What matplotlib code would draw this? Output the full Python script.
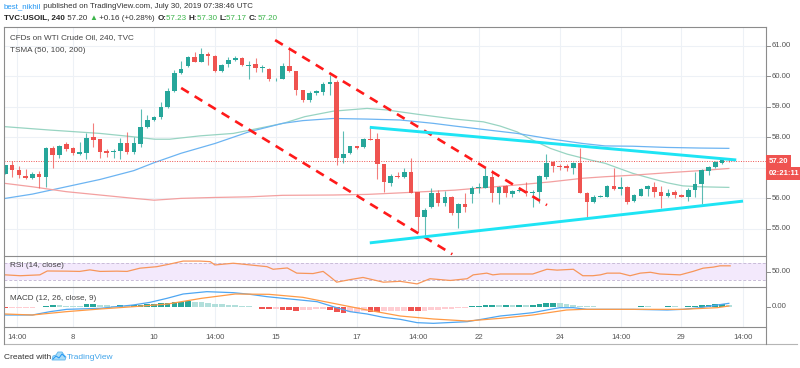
import matplotlib
matplotlib.use('Agg')
import matplotlib.pyplot as plt
import matplotlib.transforms as mtrans
from matplotlib.lines import Line2D
from matplotlib.patches import Polygon

plt.rcParams['font.family'] = ['Liberation Sans', 'DejaVu Sans']

# ---- data (candle index 0 = first 4h bar of July 8) ----
first_idx = -10
opens = [56.80, 57.08, 56.92, 56.72, 56.66, 56.78, 56.68, 57.63, 57.41, 57.76,
         57.63, 57.45, 57.47, 57.99, 57.93, 57.55, 57.50, 57.54, 57.79, 57.50,
         57.77, 58.34, 58.56, 58.65, 58.99, 59.51, 60.09, 60.34, 60.61, 60.47,
         60.72, 60.66, 60.16, 60.39, 60.52, 60.60, 60.34, 60.39, 60.26, 60.23,
         59.89, 59.92, 60.33, 60.16, 59.54, 59.21, 59.43, 59.49, 59.74, 59.81,
         57.33, 57.49, 57.70, 57.66, 57.94, 57.93, 57.11, 56.50, 56.72, 56.68,
         56.84, 56.19, 55.39, 55.71, 56.15, 55.84, 56.04, 55.52, 55.79, 56.13,
         56.34, 56.34, 56.70, 56.17, 56.39, 56.12, 56.24, 56.24, 56.18, 56.21,
         56.70, 57.19, 57.05, 57.04, 57.00, 57.16, 56.17, 55.86, 56.05, 56.04,
         56.40, 56.30, 56.37, 55.91, 56.08, 56.30, 56.37, 56.21, 56.08, 56.19,
         56.10, 56.04, 56.26, 56.46, 56.90, 57.03, 57.16, 57.23]
highs = [57.10, 57.22, 57.05, 56.94, 56.86, 56.88, 57.66, 57.70, 57.74, 57.84,
         57.67, 57.85, 58.12, 58.47, 57.94, 57.60, 57.60, 57.96, 58.17, 57.99,
         58.92, 58.72, 58.70, 59.16, 59.60, 60.20, 60.49, 60.65, 60.80, 60.91,
         60.80, 60.68, 60.41, 60.61, 60.65, 60.63, 60.49, 60.60, 60.36, 60.26,
         59.95, 60.42, 60.89, 60.18, 59.56, 59.52, 59.53, 59.81, 60.03, 59.86,
         58.21, 57.72, 57.72, 57.98, 58.32, 58.14, 57.13, 56.80, 56.85, 56.97,
         57.30, 56.21, 55.67, 56.32, 56.28, 56.23, 56.08, 55.85, 56.17, 56.40,
         56.48, 57.03, 56.92, 56.40, 56.42, 56.27, 56.30, 56.53, 56.28, 56.75,
         57.44, 57.23, 57.13, 57.12, 57.19, 57.63, 56.19, 56.09, 56.09, 56.43,
         56.97, 56.70, 56.40, 56.14, 56.33, 56.43, 56.53, 56.41, 56.30, 56.26,
         56.13, 56.32, 56.84, 56.95, 57.06, 57.20, 57.32, 57.30]
lows = [56.78, 56.70, 56.66, 56.64, 56.64, 56.32, 56.37, 56.97, 57.33, 57.54,
        57.41, 57.42, 57.28, 57.68, 57.33, 57.35, 57.30, 57.28, 57.45, 57.45,
        57.68, 58.30, 58.52, 58.59, 58.94, 59.48, 60.06, 60.30, 60.45, 60.45,
        60.36, 60.14, 60.12, 60.30, 60.48, 60.32, 59.92, 60.14, 60.14, 59.85,
        59.85, 59.90, 60.14, 59.38, 59.14, 59.14, 59.38, 59.38, 59.38, 57.08,
        57.14, 57.46, 57.60, 57.64, 57.90, 56.61, 56.21, 56.39, 56.66, 56.66,
        56.15, 54.89, 54.73, 55.66, 55.75, 55.73, 55.44, 55.01, 55.55, 55.83,
        56.15, 56.32, 55.88, 55.80, 56.02, 56.04, 56.20, 56.07, 55.71, 55.85,
        56.61, 56.86, 56.93, 56.90, 56.78, 56.15, 55.33, 55.84, 56.02, 56.03,
        56.27, 56.10, 55.80, 55.86, 56.06, 56.07, 56.05, 55.69, 56.05, 55.99,
        56.02, 55.90, 56.05, 55.80, 56.75, 57.00, 57.12, 57.17]
closes = [57.08, 56.92, 56.76, 56.65, 56.78, 56.70, 57.65, 57.41, 57.72, 57.61,
          57.47, 57.50, 57.98, 57.90, 57.52, 57.49, 57.55, 57.79, 57.50, 57.79,
          58.32, 58.56, 58.67, 58.99, 59.51, 60.09, 60.23, 60.61, 60.47, 60.72,
          60.66, 60.16, 60.38, 60.52, 60.60, 60.36, 60.36, 60.27, 60.28, 59.90,
          59.91, 60.33, 60.16, 59.54, 59.21, 59.45, 59.51, 59.74, 59.81, 57.33,
          57.44, 57.70, 57.65, 57.94, 57.91, 57.11, 56.53, 56.73, 56.68, 56.84,
          56.17, 55.39, 55.61, 56.15, 55.83, 56.04, 55.52, 55.79, 55.72, 56.34,
          56.36, 56.72, 56.17, 56.37, 56.17, 56.24, 56.26, 56.15, 56.20, 56.72,
          57.14, 57.05, 57.02, 57.00, 57.16, 56.17, 55.88, 56.04, 56.07, 56.40,
          56.29, 56.35, 55.88, 56.10, 56.30, 56.38, 56.21, 56.08, 56.17, 56.10,
          56.04, 56.26, 56.46, 56.92, 57.03, 57.17, 57.24, 57.20]

# TSMA lines, read at sample bars
ma_fast_x = [-10, -3.4, 4, 8.9, 12.1, 14.3, 18.8, 23.7, 26.2, 31.1, 34.3, 38.5, 43.5, 46.4,
             50.9, 56.5, 60.7, 63.2, 65.7, 68, 70.6, 73.1, 76.5, 78.7, 82.8, 85.4, 87.9,
             90.2, 92.8, 97]
ma_fast_y = [58.34, 58.23, 58.12, 58.01, 57.93, 57.93, 58.04, 58.12, 58.23, 58.45, 58.67,
             58.85, 58.94, 58.89, 58.75, 58.59, 58.50, 58.36, 58.17, 57.90, 57.63, 57.44,
             57.25, 57.14, 56.81, 56.65, 56.50, 56.40, 56.37, 56.35]
ma_mid_x = [-10, -6, -1, 4, 9, 12, 16, 21, 26, 31, 34, 38.5, 43.5, 48.4, 53.3, 56.5,
            60.7, 65.7, 70.6, 75.4, 78.7, 82.8, 87.9, 92.8, 97]
ma_mid_y = [55.99, 56.13, 56.37, 56.61, 56.90, 57.16, 57.47, 57.79, 58.17, 58.45, 58.54,
            58.61, 58.59, 58.56, 58.45, 58.36, 58.25, 58.12, 57.94, 57.79, 57.71, 57.70,
            57.66, 57.64, 57.63]
ma_slow_x = [-10, -6, -1, 4, 9, 12, 16, 21, 26, 31, 38.5, 43.5, 48.4, 56.5, 60.7, 65.7,
             70.6, 75.4, 78.7, 82.8, 87.9, 92.8, 97]
ma_slow_y = [56.48, 56.37, 56.21, 56.10, 55.99, 55.93, 55.99, 56.02, 56.04, 56.09, 56.10,
             56.12, 56.17, 56.26, 56.34, 56.43, 56.53, 56.65, 56.70, 56.75, 56.83, 56.90,
             56.97]

# drawn trend lines (bar index, price)
red_dash_1 = ([16.0, 56.1], [59.61, 54.16])
red_dash_2 = ([29.9, 70.1], [61.18, 55.77])
cyan_upper = ([43.9, 98.1], [58.32, 57.25])
cyan_lower = ([43.9, 99.1], [54.53, 55.90])
last_price = 57.20

rsi_x = [-10, -7.8, -4.9, -3.8, -0.9, 1, 2.5, 4, 6.5, 8, 9.9, 12.4, 14.3, 16.3, 18.8,
         20.3, 21, 23.7, 24.7, 28.7, 29.6, 31.7, 33.1, 35.5, 37, 38, 39, 41, 42.9, 45.9,
         48.4, 50.9, 52.8, 55.8, 58.3, 59.2, 61.2, 62.1, 63.2, 68, 70.1, 71.6, 74, 75.4,
         76.9, 78, 79, 80.9, 82.4, 83.9, 85.4, 86.8, 89.8, 91.7, 93.2, 94.7, 95.7, 97.2]
rsi_y = [43, 41, 43, 52, 51.6, 51, 54.6, 51, 51.6, 51, 58.5, 62, 68, 75, 75, 73.7, 66,
         70, 68.5, 62, 56, 59, 47, 46, 51, 39, 26, 32, 37, 26, 28, 22, 34, 30, 34, 43,
         47, 43, 45, 45, 56, 54, 56, 41, 41, 43, 47, 47, 41, 47, 49, 45, 43, 51, 58.5,
         61, 64, 64]

macd_x = [-10, -6, -3.4, -0.9, 4, 8.9, 11.4, 13.9, 16.3, 19.8, 23.7, 26.2, 28.7, 31.1,
          33.6, 36.1, 38.5, 41, 43.5, 45.9, 48.4, 50.9, 53.3, 58.3, 60.7, 63.2, 65.7, 68,
          70.6, 72, 74, 76, 82.8, 87.9, 90.2, 92.8, 95.3, 97]
macd_y = [-0.25, -0.25, -0.15, -0.08, -0.05, 0.05, 0.13, 0.25, 0.38, 0.45, 0.42, 0.37,
          0.30, 0.25, 0.20, 0.15, 0.0, -0.15, -0.22, -0.32, -0.38, -0.48, -0.50, -0.45,
          -0.37, -0.28, -0.23, -0.18, -0.08, -0.03, -0.03, -0.08, -0.08, -0.10, -0.08,
          -0.03, 0.05, 0.10]
signal_x = [-10, -6, -1, 4, 9, 14, 19, 24, 29, 34, 38.5, 43.5, 48.4, 53.3, 58.3, 63.2,
            68, 73, 75.5, 82.8, 90.2, 95.3, 97]
signal_y = [-0.22, -0.25, -0.15, -0.07, 0.0, 0.08, 0.25, 0.38, 0.37, 0.28, 0.10, -0.10,
            -0.28, -0.37, -0.43, -0.35, -0.25, -0.10, -0.08, -0.08, -0.08, -0.03, 0.02]
macd_hist = [-0.03, -0.03, -0.03, -0.03, -0.03, -0.02, 0.03, 0.045, 0.045, 0.035,
             0.03, 0.03, 0.085, 0.09, 0.06, 0.045, 0.03, 0.045, 0.035, 0.045,
             0.06, 0.075, 0.09, 0.105, 0.12, 0.135, 0.15, 0.165, 0.15, 0.135,
             0.12, 0.09, 0.075, 0.06, 0.045, 0.03, 0.015, -0.015, -0.06, -0.075,
             -0.06, -0.09, -0.105, -0.12, -0.105, -0.09, -0.075, -0.06, -0.09, -0.15,
             -0.18, -0.165, -0.15, -0.135, -0.15, -0.16, -0.135, -0.12, -0.12, -0.115,
             -0.135, -0.14, -0.12, -0.105, -0.09, -0.075, -0.06, -0.045, -0.03, 0.01,
             0.025, 0.06, 0.065, 0.045, 0.06, 0.045, 0.05, 0.045, 0.05, 0.075,
             0.105, 0.12, 0.105, 0.09, 0.06, 0.03, 0.015, 0.01, -0.01, -0.008,
             -0.005, 0.0, 0.005, 0.0, 0.01, 0.008, 0.003, 0.0, 0.01, 0.008,
             0.005, 0.015, 0.03, 0.045, 0.06, 0.075, 0.08, 0.06]

time_ticks = [-8.3, 0, 12, 21, 30, 42, 51, 60, 72, 81.1, 90, 99.1]
time_labels = ['14:00', '8', '10', '14:00', '15', '17', '14:00', '22', '24', '14:00', '29', '14:00']
price_ticks = [55, 56, 58, 59, 60, 61]

# ---- figure ----
W, H = 800, 368
fig = plt.figure(figsize=(W / 100, H / 100), dpi=100)
fig.patch.set_facecolor('white')

def fx(px):
    return px / W

def fy(py):
    return 1 - py / H

def panel(top, bottom):
    a = fig.add_axes([fx(4), fy(bottom), fx(766 - 4), (bottom - top) / H])
    a.set_xlim(-10.2, 102.5)
    a.set_xticks([])
    a.set_yticks([])
    for s in a.spines.values():
        s.set_visible(False)
    for t in time_ticks:
        a.axvline(t, color='#edf1f6', lw=0.8, zorder=0)
    return a

ax = panel(27, 256)
ax_rsi = panel(256, 287)
ax_macd = panel(287, 327)

UP, DOWN = '#26a69a', '#ef5350'
GRAY = '#555555'
FS = 5.6

# main price panel
ax.set_ylim(54.10, 61.61)
for p in [55, 56, 57, 58, 59, 60, 61]:
    ax.axhline(p, color='#edf1f6', lw=0.8, zorder=0)

idx = list(range(first_idx, first_idx + len(opens)))
cols = [UP if c >= o else DOWN for o, c in zip(opens, closes)]
ax.vlines(idx, lows, highs, colors=cols, lw=0.8, alpha=0.75, zorder=3)
bottoms = [min(o, c) for o, c in zip(opens, closes)]
heights = [max(abs(c - o), 0.025) for o, c in zip(opens, closes)]
ax.bar(idx, heights, bottom=bottoms, width=0.68, color=cols, zorder=4, linewidth=0)

ax.plot(ma_fast_x, ma_fast_y, color='#98d4c2', lw=0.9, zorder=2)
ax.plot(ma_mid_x, ma_mid_y, color='#6cb4f2', lw=0.9, zorder=2)
ax.plot(ma_slow_x, ma_slow_y, color='#f3a0a0', lw=0.9, zorder=2)

ax.axhline(last_price, color='#ef5350', lw=0.7, ls=(0, (1, 1.5)), zorder=2)

for xs, ys in (red_dash_1, red_dash_2):
    ax.plot(xs, ys, color='#ff1a1a', lw=1.9, dashes=(3.4, 2.6), solid_capstyle='butt', zorder=5)
for xs, ys in (cyan_upper, cyan_lower):
    ax.plot(xs, ys, color='#1ee4f4', lw=2.1, solid_capstyle='butt', zorder=5)

ax.text(6 / 762, 1 - 11 / 229, 'CFDs on WTI Crude Oil, 240, TVC', transform=ax.transAxes,
        fontsize=FS + 0.3, color='#444444', va='center')
ax.text(6 / 762, 1 - 23 / 229, 'TSMA (50, 100, 200)', transform=ax.transAxes,
        fontsize=FS + 0.3, color='#444444', va='center')

# RSI panel
ax_rsi.set_ylim(14.8, 86.8)
ax_rsi.axhspan(30, 70, color='#f3e9fc', zorder=0, lw=0)
ax_rsi.axhline(70, color='#c9bcd8', lw=0.7, ls=(0, (3, 2)))
ax_rsi.axhline(30, color='#c9bcd8', lw=0.7, ls=(0, (3, 2)))
ax_rsi.plot(rsi_x, rsi_y, color='#f7965a', lw=0.9, zorder=3)
ax_rsi.text(6 / 762, 0.7, 'RSI (14, close)', transform=ax_rsi.transAxes, fontsize=FS + 0.3,
            color='#444444', va='center')

# MACD panel
ax_macd.set_ylim(-0.61, 0.59)
hist_cols = []
prev = 0.0
for h in macd_hist:
    if h >= 0:
        hist_cols.append('#26a69a' if h > prev else '#b2dfdb')
    else:
        hist_cols.append('#ef5350' if h < prev else '#ffcdd2')
    prev = h
ax_macd.bar(idx, macd_hist, width=0.85, color=hist_cols, linewidth=0, zorder=2)
ax_macd.plot(macd_x, macd_y, color='#4ea6f2', lw=0.9, zorder=3)
ax_macd.plot(signal_x, signal_y, color='#ff9a45', lw=0.9, zorder=3)
ax_macd.text(6 / 762, 0.72, 'MACD (12, 26, close, 9)', transform=ax_macd.transAxes,
             fontsize=FS + 0.3, color='#444444', va='center')

# frame lines
def hline(py, x0, x1, color='#8c8c8c', lw=0.8):
    fig.add_artist(Line2D([fx(x0), fx(x1)], [fy(py), fy(py)], color=color, lw=lw))

def vline(px, y0, y1, color='#8c8c8c', lw=0.8):
    fig.add_artist(Line2D([fx(px), fx(px)], [fy(y0), fy(y1)], color=color, lw=lw))

hline(27, 4, 766)
hline(256, 4, 766)
hline(287, 4, 766)
hline(327, 4, 766)
hline(344, 4, 797, color='#b5b5b5')
vline(4, 27, 344)
vline(766, 27, 344)

# right price scale
blend = mtrans.blended_transform_factory(fig.transFigure, ax.transData)
for p in price_ticks:
    fig.add_artist(Line2D([fx(766), fx(770)], [p, p], transform=blend, color='#8c8c8c', lw=0.7))
    fig.text(fx(772), p, f'{p:.2f}', transform=blend, fontsize=FS, color=GRAY, va='center')
fig.text(fx(768.5), last_price, f'{last_price:.2f}', transform=blend, fontsize=FS, color='white',
         va='center', fontweight='bold',
         bbox=dict(boxstyle='square,pad=0.35', fc='#ef5350', ec='none'))
fig.text(fx(768.5), fy(173.5), '02:21:11', fontsize=FS, color='white', va='center',
         fontweight='bold', bbox=dict(boxstyle='square,pad=0.35', fc='#ef5350', ec='none'))

blend_rsi = mtrans.blended_transform_factory(fig.transFigure, ax_rsi.transData)
fig.add_artist(Line2D([fx(766), fx(770)], [50, 50], transform=blend_rsi, color='#8c8c8c', lw=0.7))
fig.text(fx(772), 50, '50.00', transform=blend_rsi, fontsize=FS, color=GRAY, va='center')
blend_macd = mtrans.blended_transform_factory(fig.transFigure, ax_macd.transData)
fig.add_artist(Line2D([fx(766), fx(770)], [0, 0], transform=blend_macd, color='#8c8c8c', lw=0.7))
fig.text(fx(772), 0, '0.00', transform=blend_macd, fontsize=FS, color=GRAY, va='center')

# time axis
blend_t = mtrans.blended_transform_factory(ax_macd.transData, fig.transFigure)
for t, lab in zip(time_ticks, time_labels):
    fig.text(t, fy(337.5), lab, transform=blend_t, fontsize=FS, color=GRAY, ha='center', va='center')

# header
renderer = fig.canvas.get_renderer()

def runs(x_px, y_px, parts, size):
    x = x_px
    for s, color, weight in parts:
        t = fig.text(fx(x), fy(y_px), s, color=color, fontweight=weight, fontsize=size,
                     va='center', ha='left')
        x += t.get_window_extent(renderer).width

GREEN = '#3cb44b'
runs(4, 6.5, [('best_nikhil', '#2196f3', 'normal'),
              (' published on TradingView.com, July 30, 2019 07:38:46 UTC', '#333333', 'normal')],
     FS + 0.1)
runs(4, 18.5, [('TVC:USOIL, 240', '#222222', 'bold'), (' 57.20 ', '#333333', 'normal'),
               ('\u25b2', GREEN, 'normal'), (' +0.16 (+0.28%) ', '#333333', 'normal'),
               ('O:', '#222222', 'bold'), ('57.23 ', GREEN, 'normal'),
               ('H:', '#222222', 'bold'), ('57.30 ', GREEN, 'normal'),
               ('L:', '#222222', 'bold'), ('57.17 ', GREEN, 'normal'),
               ('C:', '#222222', 'bold'), ('57.20', GREEN, 'normal')],
     FS + 0.2)

# footer
fig.text(fx(4), fy(357.5), 'Created with', fontsize=FS + 0.4, color='#333333', va='center')
cloud = [(52, 360), (53, 356), (56, 355), (58, 352), (62, 352), (64, 355), (66, 357), (65, 360)]
fig.add_artist(Polygon([(fx(a), fy(b)) for a, b in cloud], closed=True, fc='#a9dcf7', ec='#5bb5ec', lw=0.6))
fig.add_artist(Line2D([fx(53), fx(56), fx(59), fx(62), fx(65)], [fy(359), fy(356), fy(358), fy(354), fy(357)],
                      color='#2196f3', lw=0.7))
fig.text(fx(66.5), fy(357.5), 'TradingView', fontsize=FS + 0.4, color='#41a4ea', va='center')

fig.savefig('out.png', dpi=100)
